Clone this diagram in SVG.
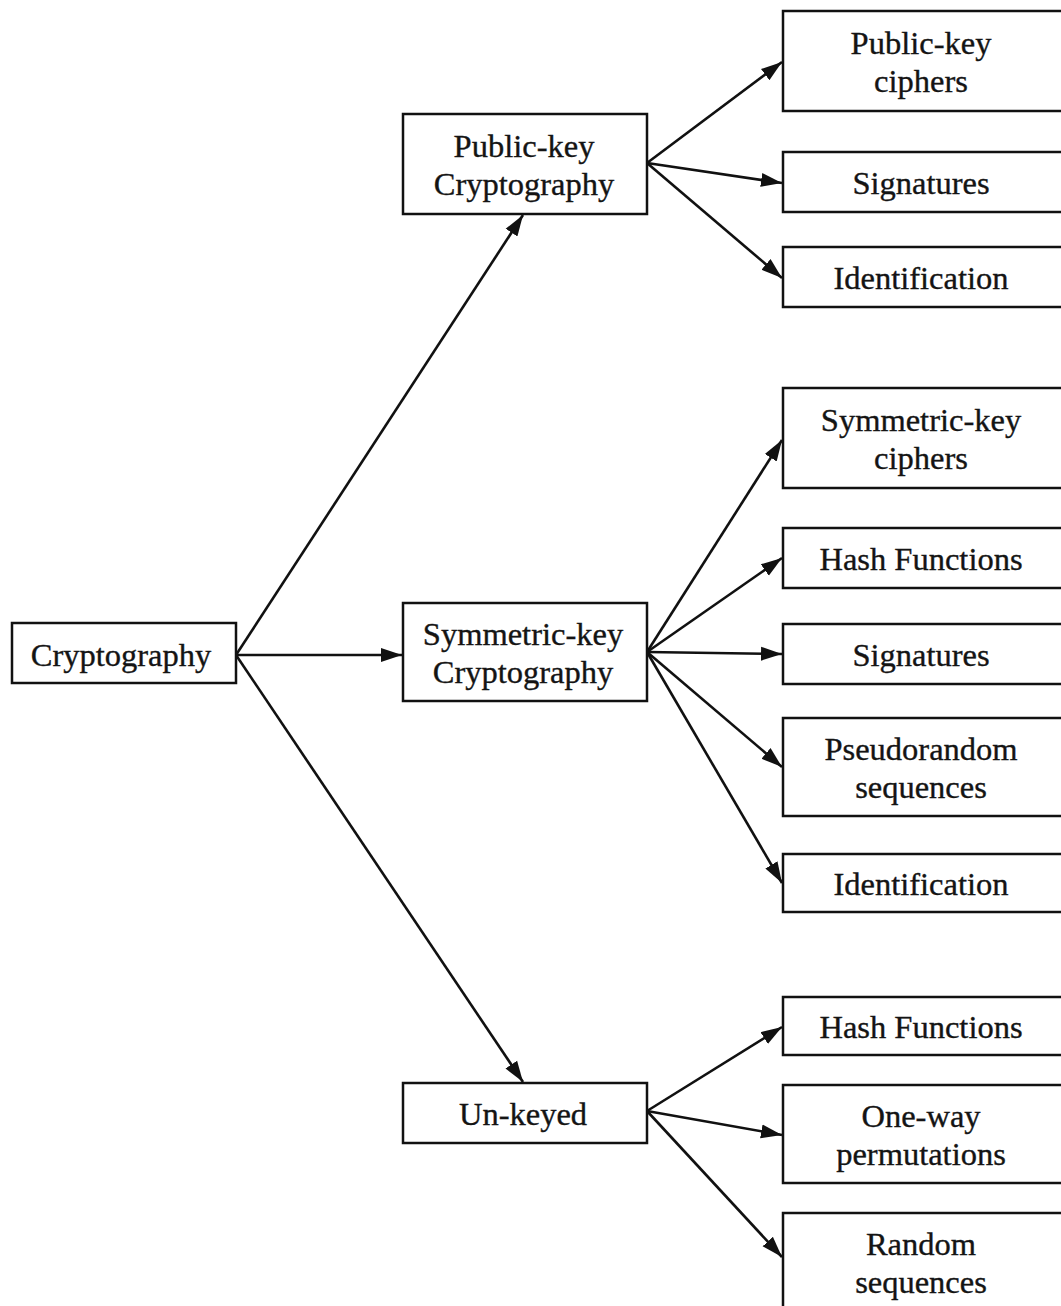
<svg xmlns="http://www.w3.org/2000/svg" width="1061" height="1306" viewBox="0 0 1061 1306">
  <style>
    .box { fill: #ffffff; stroke: #111111; stroke-width: 2.5; }
    .lbl { font-family: "Liberation Serif", "Times New Roman", serif; font-size: 32.5px; fill: #141414; stroke: #141414; stroke-width: 0.35; text-anchor: middle; }
    .edge { stroke: #111111; stroke-width: 2.6; fill: none; marker-end: url(#arrow); }
  </style>
  <defs>
    <marker id="arrow" markerUnits="userSpaceOnUse" markerWidth="22" markerHeight="18" viewBox="0 0 22 18" refX="21" refY="9" orient="auto">
      <path d="M0,2 L21,9 L0,16 Z" fill="#111111"/>
    </marker>
  </defs>
  <rect width="1061" height="1306" fill="#ffffff"/>

  <!-- connectors -->
  <g id="connectors">
    <line class="edge" x1="236" y1="655" x2="523" y2="215"/>
    <line class="edge" x1="236" y1="655" x2="402" y2="655"/>
    <line class="edge" x1="236" y1="655" x2="523" y2="1082"/>

    <line class="edge" x1="647" y1="163" x2="782" y2="62"/>
    <line class="edge" x1="647" y1="163" x2="782" y2="183"/>
    <line class="edge" x1="647" y1="163" x2="782" y2="278"/>

    <line class="edge" x1="647" y1="652" x2="782" y2="440"/>
    <line class="edge" x1="647" y1="652" x2="782" y2="558"/>
    <line class="edge" x1="647" y1="652" x2="782" y2="654"/>
    <line class="edge" x1="647" y1="652" x2="782" y2="767"/>
    <line class="edge" x1="647" y1="652" x2="782" y2="883"/>

    <line class="edge" x1="647" y1="1111" x2="782" y2="1027"/>
    <line class="edge" x1="647" y1="1111" x2="782" y2="1135"/>
    <line class="edge" x1="647" y1="1111" x2="782" y2="1257"/>
  </g>

  <!-- root -->
  <g id="cryptography">
    <rect class="box" x="12" y="623" width="224" height="60"/>
    <text class="lbl" x="121" y="666">Cryptography</text>
  </g>

  <!-- middle tier -->
  <g id="public-key-cryptography">
    <rect class="box" x="403" y="114" width="244" height="100"/>
    <text class="lbl" x="524" y="157">Public-key</text>
    <text class="lbl" x="524" y="195">Cryptography</text>
  </g>
  <g id="symmetric-key-cryptography">
    <rect class="box" x="403" y="603" width="244" height="98"/>
    <text class="lbl" x="523" y="645">Symmetric-key</text>
    <text class="lbl" x="523" y="683">Cryptography</text>
  </g>
  <g id="un-keyed">
    <rect class="box" x="403" y="1083" width="244" height="60"/>
    <text class="lbl" x="523" y="1125">Un-keyed</text>
  </g>

  <!-- leaves: public-key -->
  <g id="public-key-ciphers">
    <rect class="box" x="783" y="11" width="280" height="100"/>
    <text class="lbl" x="921" y="54">Public-key</text>
    <text class="lbl" x="921" y="92">ciphers</text>
  </g>
  <g id="pk-signatures">
    <rect class="box" x="783" y="152" width="280" height="60"/>
    <text class="lbl" x="921" y="194">Signatures</text>
  </g>
  <g id="pk-identification">
    <rect class="box" x="783" y="247" width="280" height="60"/>
    <text class="lbl" x="921" y="289">Identification</text>
  </g>

  <!-- leaves: symmetric-key -->
  <g id="symmetric-key-ciphers">
    <rect class="box" x="783" y="388" width="280" height="100"/>
    <text class="lbl" x="921" y="431">Symmetric-key</text>
    <text class="lbl" x="921" y="469">ciphers</text>
  </g>
  <g id="sk-hash-functions">
    <rect class="box" x="783" y="528" width="280" height="60"/>
    <text class="lbl" x="921" y="570">Hash Functions</text>
  </g>
  <g id="sk-signatures">
    <rect class="box" x="783" y="624" width="280" height="60"/>
    <text class="lbl" x="921" y="666">Signatures</text>
  </g>
  <g id="pseudorandom-sequences">
    <rect class="box" x="783" y="718" width="280" height="98"/>
    <text class="lbl" x="921" y="760">Pseudorandom</text>
    <text class="lbl" x="921" y="798">sequences</text>
  </g>
  <g id="sk-identification">
    <rect class="box" x="783" y="854" width="280" height="58"/>
    <text class="lbl" x="921" y="895">Identification</text>
  </g>

  <!-- leaves: un-keyed -->
  <g id="uk-hash-functions">
    <rect class="box" x="783" y="997" width="280" height="58"/>
    <text class="lbl" x="921" y="1038">Hash Functions</text>
  </g>
  <g id="one-way-permutations">
    <rect class="box" x="783" y="1085" width="280" height="98"/>
    <text class="lbl" x="921" y="1127">One-way</text>
    <text class="lbl" x="921" y="1165">permutations</text>
  </g>
  <g id="random-sequences">
    <rect class="box" x="783" y="1213" width="280" height="100"/>
    <text class="lbl" x="921" y="1255">Random</text>
    <text class="lbl" x="921" y="1293">sequences</text>
  </g>
</svg>
